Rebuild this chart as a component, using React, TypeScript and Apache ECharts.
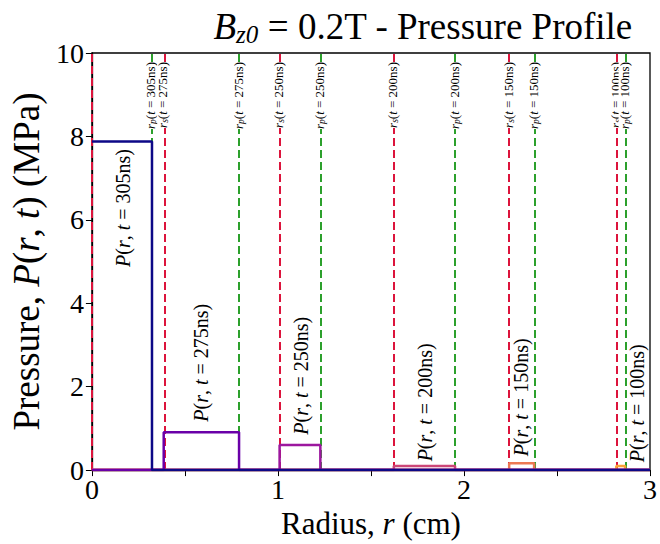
import React, { useEffect, useRef } from "react";
import * as echarts from "echarts";

// ---- data ----
const times = [305, 275, 250, 200, 150, 100];
const rShock = [0, 0.386, 1.009, 1.623, 2.243, 2.819];
const rPiston = [0.323, 0.791, 1.228, 1.952, 2.377, 2.866];
const pressure = [7.88, 0.905, 0.6, 0.1, 0.165, 0.1];
const xTickLabels = ["0", "1", "2", "3"];
const yTickLabels = ["0", "2", "4", "6", "8", "10"];

// ---- layout / style ----
const profileColors = ["#0d0887", "#6a00a8", "#9c179e", "#cc4778", "#ed7953", "#fba238"];
const labelAnchor = [
  [0.165, 4.87],
  [0.585, 1.16],
  [1.126, 0.85],
  [1.793, 0.21],
  [2.307, 0.33],
  [2.932, 0.19],
];
const FONT = "'Liberation Serif', 'DejaVu Serif', serif";
const RED = "#dc143c";
const GREEN = "#2ca02c";

const smallRich = {
  n: { fontFamily: FONT, fontSize: 13, lineHeight: 11, color: "#000" },
  i: { fontFamily: FONT, fontSize: 13, lineHeight: 11, fontStyle: "italic", color: "#000" },
  sub: { fontFamily: FONT, fontSize: 9.5, lineHeight: 11, fontStyle: "italic", color: "#000", padding: [5, 0, 0, 0] },
};
const bigRich = {
  n: { fontFamily: FONT, fontSize: 20, color: "#000" },
  i: { fontFamily: FONT, fontSize: 20, fontStyle: "italic", color: "#000" },
};

export default function App() {
  const ref = useRef<HTMLDivElement>(null);
  useEffect(() => {
    if (!ref.current) return;
    const chart = echarts.init(ref.current, undefined, { renderer: "svg" });

    const profileSeries = times
      .map((t, i) => {
        const rs = rShock[i];
        const rp = rPiston[i];
        const p = pressure[i];
        const data =
          rs === 0
            ? [[0, p], [rp, p], [rp, 0], [3, 0]]
            : [[0, 0], [rs, 0], [rs, p], [rp, p], [rp, 0], [3, 0]];
        return {
          type: "line",
          name: `P(r, t=${t}ns)`,
          data,
          showSymbol: false,
          symbol: "none",
          z: 20 - i,
          lineStyle: { color: profileColors[i], width: 2.5 },
          silent: true,
        };
      })
      .reverse();

    const option: any = {
      animation: false,
      title: {
        text: "{i|B}{sub|z0}{n| = 0.2T - Pressure Profile}",
        left: 418,
        textAlign: "center",
        top: 1,
        textStyle: {
          fontWeight: "normal",
          rich: {
            n: { fontFamily: FONT, fontSize: 37, fontWeight: "normal", color: "#000" },
            i: { fontFamily: FONT, fontSize: 37, fontWeight: "normal", fontStyle: "italic", color: "#000" },
            sub: { fontFamily: FONT, fontSize: 25, fontWeight: "normal", fontStyle: "italic", color: "#000", padding: [16, 0, 0, 0] },
          },
        },
      },
      grid: {
        left: 83,
        right: 5,
        top: 53,
        bottom: 68,
        show: true,
        borderColor: "#000",
        borderWidth: 1.3,
        backgroundColor: "transparent",
      },
      xAxis: {
        type: "value",
        min: 0,
        max: 3,
        interval: 0.5,
        name: "{n|Radius, }{i|r}{n| (cm)}",
        nameLocation: "middle",
        nameGap: 31,
        nameTextStyle: {
          rich: {
            n: { fontFamily: FONT, fontSize: 31, color: "#000" },
            i: { fontFamily: FONT, fontSize: 31, fontStyle: "italic", color: "#000" },
          },
          fontFamily: FONT,
          fontSize: 31,
          color: "#000",
        },
        axisLine: { show: true, lineStyle: { color: "#000", width: 1.3 } },
        axisTick: { show: true, inside: false, length: 6, lineStyle: { color: "#000" } },
        axisLabel: {
          fontFamily: FONT,
          fontSize: 28,
          color: "#000",
          margin: 5,
          formatter: (v: number) => (Number.isInteger(v) ? xTickLabels[v] : ""),
        },
        splitLine: { show: false },
      },
      yAxis: {
        type: "value",
        min: 0,
        max: 10,
        interval: 2,
        name: "{n|Pressure, }{i|P}{n|(}{i|r}{n|, }{i|t}{n|) (MPa)}",
        nameLocation: "middle",
        nameGap: 36,
        nameTextStyle: {
          rich: {
            n: { fontFamily: FONT, fontSize: 37, color: "#000" },
            i: { fontFamily: FONT, fontSize: 37, fontStyle: "italic", color: "#000" },
          },
          fontFamily: FONT,
          fontSize: 37,
          color: "#000",
        },
        axisLine: { show: true, lineStyle: { color: "#000", width: 1.3 } },
        axisTick: { show: true, inside: false, length: 6, lineStyle: { color: "#000" } },
        axisLabel: {
          fontFamily: FONT,
          fontSize: 28,
          color: "#000",
          margin: 8,
          formatter: (v: number) => yTickLabels[Math.round(v / 2)] ?? "",
        },
        splitLine: { show: false },
      },
      series: [
        {
          type: "line",
          name: "r_s",
          data: [],
          silent: true,
          z: 2,
          markLine: {
            symbol: "none",
            silent: true,
            label: { show: false },
            lineStyle: { color: RED, type: [8, 4], width: 2 },
            data: rShock.map((r) => ({ xAxis: r })),
          },
        },
        {
          type: "line",
          name: "r_p",
          data: [],
          silent: true,
          z: 2,
          markLine: {
            symbol: "none",
            silent: true,
            label: { show: false },
            lineStyle: { color: GREEN, type: [8, 4], width: 2 },
            data: rPiston.map((r) => ({ xAxis: r })),
          },
        },
        ...profileSeries,
      ],
    };
    chart.setOption(option);

    const graphics: any[] = [];
    const topLabel = (r: number, kind: string, t: number) => {
      const [px, py] = chart.convertToPixel({ gridIndex: 0 }, [r, 10]) as number[];
      graphics.push({
        type: "text",
        x: px - 1,
        y: py + 9,
        rotation: Math.PI / 2,
        z: 50,
        style: {
          text: `{i|r}{sub|${kind}}{n|(}{i|t}{n| = ${t}ns)}`,
          rich: smallRich,
          align: "right",
          verticalAlign: "middle",
          backgroundColor: "#fff",
          padding: [0, 0],
        },
      });
    };
    times.forEach((t, i) => {
      if (rShock[i] > 0) topLabel(rShock[i], "s", t);
      topLabel(rPiston[i], "p", t);
      const [ax, ay] = chart.convertToPixel({ gridIndex: 0 }, labelAnchor[i]) as number[];
      graphics.push({
        type: "text",
        x: ax,
        y: ay,
        rotation: Math.PI / 2,
        z: 50,
        style: {
          text: `{i|P}{n|(}{i|r}{n|, }{i|t}{n| = ${t}ns)}`,
          rich: bigRich,
          align: "left",
          verticalAlign: "middle",
        },
      });
    });
    chart.setOption({ graphic: graphics });

    return () => chart.dispose();
  }, []);
  return (
    <div
      ref={ref}
      style={{ position: "fixed", left: 0, top: 0, width: 660, height: 544, background: "#fff" }}
    />
  );
}
